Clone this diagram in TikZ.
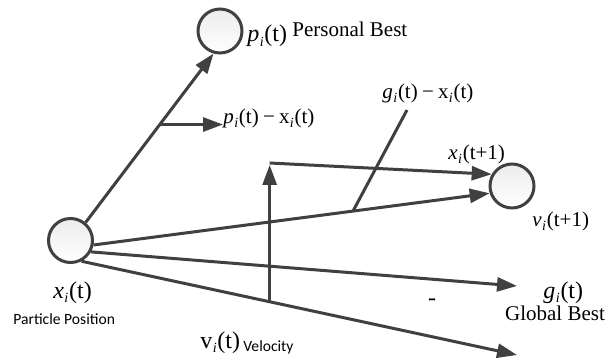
\documentclass[tikz,border=0pt]{standalone}
\usepackage{fontspec}
\setmainfont{Liberation Serif}
\newfontfamily\fontesans{Carlito}
\usetikzlibrary{arrows.meta,positioning,calc}
\definecolor{PsoEscuro}{RGB}{64,64,64}
\definecolor{PsoClaro}{RGB}{236,236,236}
% letra com indice i e argumento entre parenteses
\newcommand{\vetor}[2]{#1\kern0.2pt\raisebox{-0.4ex}{\scriptsize\textit{i}}\kern0.4pt(#2)}
\newcommand{\menos}{\hspace{0.2em}{\char"2212}\hspace{0.2em}}
\tikzset{
  particula/.style={circle, draw=PsoEscuro, line width=1.5pt, top color=PsoClaro,
                bottom color=white, minimum size=22pt, inner sep=0pt},
  seta/.style={-{Triangle[length=10pt,width=7pt]}, line width=1.5pt, PsoEscuro},
  traco/.style={line width=1.5pt, PsoEscuro},
  rotulogrande/.style={font=\fontsize{12}{14}\selectfont, inner sep=0pt},
  rotulo/.style={font=\fontsize{10.5}{12}\selectfont, inner sep=0pt},
  rotulosf/.style={font=\fontesans\fontsize{7.8}{9}\selectfont, inner sep=0pt},
}

\begin{document}
\begin{tikzpicture}[x=0.5pt, y=-0.5pt]
  \useasboundingbox (0,0) rectangle (613,362);

  % particulas
  \node[particula] (xi) at (70.5,240.5) {};
  \node[particula] (pb) at (220,31) {};
  \node[particula] (xn) at (512,186) {};

  % pontas livres
  \coordinate (gfim)   at (517,286);
  \coordinate (vfim)   at (517,355);
  \coordinate (vtopo)  at (270,163);
  \coordinate (pxfim)  at (223,125);
  \coordinate (gxtopo) at (407,110);

  % vetores
  \draw[seta] (xi.50) -- (pb.-106) coordinate[pos=0.58] (pbmeio);
  \draw[seta] (pbmeio) -- (pbmeio -| pxfim);
  \draw[seta] (xi.-11) -- (xn.-162) coordinate[pos=0.655] (gxbase);
  \draw[traco] (gxbase) -- (gxtopo);
  \draw[seta] (xi.-29) -- (gfim);
  \draw[seta] (xi.-62) -- (vfim) coordinate[pos=0.432] (vbase);
  \draw[seta, shorten >=1pt] (vbase) -- (vbase |- vtopo);
  \draw[seta] (vbase |- vtopo) -- (xn.150);

  % rotulos
  \node[rotulogrande, anchor=base west] (lpb) at (247,42) {\vetor{\textit{p}}{t}};
  \node[rotulo, anchor=base west] (lpbnome) at (292,37) {Personal Best};
  \node[rotulo, anchor=base west] (lpx) at (223,124)
    {\vetor{\textit{p}}{t}\menos\vetor{x}{t}};
  \node[rotulo, anchor=base west] (lgx) at (382,98.5)
    {\vetor{\textit{g}}{t}\menos\vetor{x}{t}};
  \node[rotulo, anchor=base west] (lxn) at (448,159.5) {\vetor{\textit{x}}{t+1}};
  \node[rotulo, anchor=base west] (lvn) at (532,226.5) {\vetor{\textit{v}}{t+1}};
  \node[rotulogrande, anchor=base west] (lgb) at (543,298.5) {\vetor{\textit{g}}{t}};
  \node[rotulo, anchor=base] (lgbnome) at (555,320) {Global Best};
  \node[rotulogrande] (traco) at (432,302) {-};
  \node[rotulogrande, anchor=base west] (lxi) at (53,298.5) {\vetor{\textit{x}}{t}};
  \node[rotulosf, anchor=base west] (lxinome) at (13,324) {Particle Position};
  \node[rotulogrande, anchor=base west] (lv) at (200,348) {\vetor{v}{t}};
  \node[rotulosf, anchor=base west] (lvnome) at (243,351.5) {Velocity};
\end{tikzpicture}
\end{document}
